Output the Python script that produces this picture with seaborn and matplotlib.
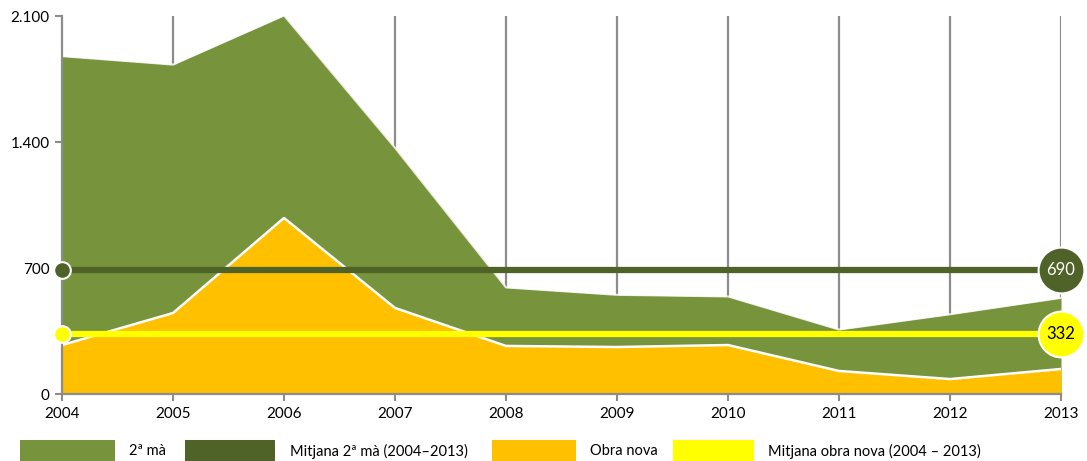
import matplotlib
matplotlib.use("Agg")
import matplotlib.pyplot as plt
from matplotlib.patches import Rectangle
import seaborn as sns
import numpy as np
import pandas as pd

years = [2004, 2005, 2006, 2007, 2008, 2009, 2010, 2011, 2012, 2013]
obra_nova = [272, 450, 978, 478, 267, 261, 272, 128, 83, 139]
segona_ma = [1605, 1380, 1125, 890, 325, 290, 270, 230, 360, 395]
mean_2ma = 690
mean_obra = 332
ytick_vals = [0, 700, 1400, 2100]
ytick_labels = ["0", "700", "1.400", "2.100"]
legend_labels = ["2ª mà", "Mitjana 2ª mà (2004–2013)", "Obra nova", "Mitjana obra nova (2004 – 2013)"]

C_GREEN = "#77933c"
C_DGREEN = "#4f6228"
C_ORANGE = "#ffc000"
C_YELLOW = "#ffff00"
C_GRAY = "#8c8c8c"

sns.set_theme(style="white")
plt.rcParams["font.family"] = ["Lato", "DejaVu Sans"]

df = pd.DataFrame({"year": years, "obra": obra_nova, "ma": segona_ma})
df["total"] = df["obra"] + df["ma"]

fig = plt.figure(figsize=(10.87, 4.61), dpi=100)
ax = fig.add_axes([62/1087, 67/461, (1061-62)/1087, (394-16)/461])

# vertical grid lines behind areas
for yr in years[1:]:
    ax.axvline(yr, color=C_GRAY, lw=1.6, zorder=0)

ax.fill_between(df["year"], 0, df["total"], color=C_GREEN, lw=0, zorder=1)
ax.fill_between(df["year"], 0, df["obra"], color=C_ORANGE, lw=0, zorder=2)
sns.lineplot(x="year", y="total", data=df, ax=ax, color="white", lw=1.5, zorder=3, alpha=0.8)
sns.lineplot(x="year", y="obra", data=df, ax=ax, color="white", lw=1.8, zorder=3)

# mean lines
ax.plot([years[0], years[-1]], [mean_2ma, mean_2ma], color=C_DGREEN, lw=4.5, zorder=4, solid_capstyle="butt")
ax.plot([years[0], years[-1]], [mean_obra, mean_obra], color=C_YELLOW, lw=4.5, zorder=4, solid_capstyle="butt")
ax.plot([years[0]], [mean_2ma], "o", ms=12, mfc=C_DGREEN, mec="white", mew=1.5, zorder=6, clip_on=False)
ax.plot([years[0]], [mean_obra], "o", ms=12, mfc=C_YELLOW, mec="white", mew=1.5, zorder=6, clip_on=False)
ax.plot([years[-1]], [mean_2ma], "o", ms=33, mfc=C_DGREEN, mec="white", mew=1.5, zorder=6, clip_on=False)
ax.plot([years[-1]], [mean_obra], "o", ms=33, mfc=C_YELLOW, mec="white", mew=1.5, zorder=6, clip_on=False)
ax.text(years[-1], mean_2ma, str(mean_2ma), color="white", ha="center", va="center", fontsize=12, zorder=7)
ax.text(years[-1], mean_obra, str(mean_obra), color="black", ha="center", va="center", fontsize=12, zorder=7)

ax.set_xlim(years[0], years[-1])
ax.set_ylim(0, 2100)
ax.set_xticks(years)
ax.set_xticklabels([str(y) for y in years], fontsize=11)
ax.set_yticks(ytick_vals)
ax.set_yticklabels(ytick_labels, fontsize=11)
ax.set_xlabel("")
ax.set_ylabel("")
for s in ["top", "right"]:
    ax.spines[s].set_visible(False)
for s in ["left", "bottom"]:
    ax.spines[s].set_color(C_GRAY)
    ax.spines[s].set_linewidth(1.6)
    ax.spines[s].set_zorder(5)
ax.tick_params(axis="both", which="both", direction="out", length=5, width=1.5, color=C_GRAY,
               left=True, bottom=True, labelcolor="black", pad=4)
ax.grid(False)

# legend (manual, figure pixel coords)
W, H = 1087, 461
items = [
    (20, 95, C_GREEN, 129, legend_labels[0]),
    (185, 90, C_DGREEN, 290, legend_labels[1]),
    (492, 84, C_ORANGE, 590, legend_labels[2]),
    (673, 81, C_YELLOW, 768, legend_labels[3]),
]
for px, pw, col, tx, lab in items:
    fig.add_artist(Rectangle((px / W, (461 - 462) / H), pw / W, 22 / H, transform=fig.transFigure,
                             facecolor=col, edgecolor="none"))
    fig.text(tx / W, (461 - 451) / H, lab, fontsize=10.5, va="center", ha="left", color="black")

fig.savefig("out.png", dpi=100)
